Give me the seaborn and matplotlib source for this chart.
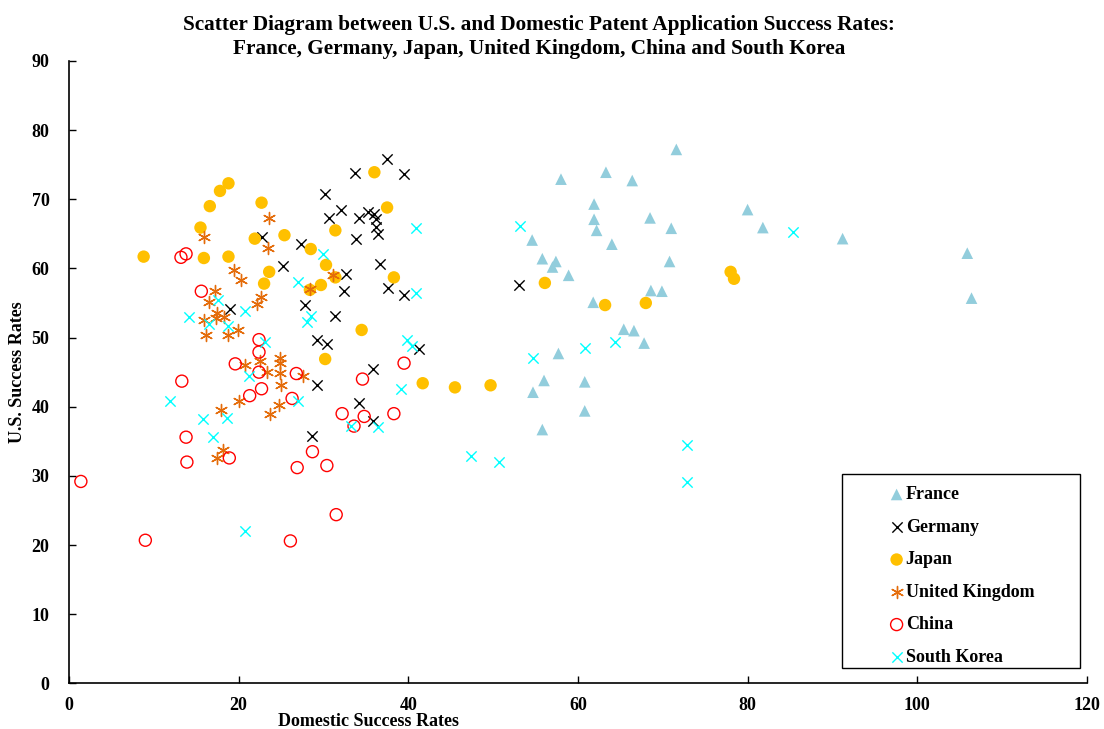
import pandas as pd
import seaborn as sns
import matplotlib.pyplot as plt
from matplotlib.patches import Rectangle

# Данные: (внутренний успех, успех в США) по странам
france_x = [71.6, 63.3, 66.4, 58.0, 80.0, 61.9, 68.5, 61.9, 81.8, 71.0, 62.2, 54.6, 64.0, 91.2,
            105.9, 106.4, 55.8, 57.4, 57.0, 58.9, 70.8, 68.6, 69.9, 61.8, 65.4, 66.6, 67.8,
            57.7, 56.0, 54.7, 60.8, 60.8, 55.8]
france_y = [77.2, 73.9, 72.7, 72.9, 68.5, 69.3, 67.3, 67.1, 65.9, 65.8, 65.5, 64.1, 63.5, 64.3,
            62.2, 55.7, 61.4, 61.0, 60.2, 59.0, 61.0, 56.8, 56.7, 55.1, 51.2, 51.0, 49.2,
            47.7, 43.8, 42.1, 43.6, 39.4, 36.7]

germany_x = [37.5, 33.7, 39.5, 30.2, 32.1, 30.6, 34.2, 35.3, 35.9, 36.2, 36.2, 36.4, 22.8, 33.8,
             27.3, 36.7, 25.2, 32.7, 32.4, 37.6, 39.5, 27.8, 19.0, 31.4, 29.2, 30.4, 41.3,
             35.8, 29.2, 34.2, 35.8, 28.6, 53.0]
germany_y = [75.8, 73.8, 73.6, 70.7, 68.4, 67.3, 67.3, 68.2, 67.9, 67.1, 66.0, 65.0, 64.6, 64.2,
             63.5, 60.7, 60.3, 59.2, 56.7, 57.1, 56.1, 54.7, 54.2, 53.1, 49.6, 49.1, 48.3,
             45.5, 43.1, 40.5, 37.9, 35.7, 57.6]

japan_x = [18.8, 17.8, 16.6, 36.0, 22.7, 37.5, 15.5, 31.4, 25.4, 21.9, 28.5, 8.8, 15.9, 18.8,
           30.3, 23.6, 38.3, 31.4, 29.7, 28.4, 23.0, 34.5, 30.2, 41.7, 45.5, 49.7, 56.1,
           63.2, 68.0, 78.0, 78.4]
japan_y = [72.3, 71.2, 69.0, 73.9, 69.5, 68.8, 65.9, 65.5, 64.8, 64.3, 62.8, 61.7, 61.5, 61.7,
           60.5, 59.5, 58.7, 58.7, 57.6, 56.9, 57.8, 51.1, 46.9, 43.4, 42.8, 43.1, 57.9,
           54.7, 55.0, 59.5, 58.5]

uk_x = [15.9, 23.6, 23.5, 19.4, 20.3, 31.1, 28.4, 17.2, 16.5, 22.2, 22.6, 15.9, 17.4, 17.3,
        18.3, 19.9, 16.1, 18.8, 24.9, 24.9, 22.5, 20.8, 23.3, 24.9, 27.6, 25.0, 20.1, 24.7,
        17.9, 23.7, 18.1, 17.5]
uk_y = [64.6, 67.3, 62.9, 59.7, 58.3, 59.1, 57.0, 56.7, 55.1, 54.9, 55.9, 52.6, 53.5, 52.8,
        53.0, 51.1, 50.4, 50.4, 47.0, 46.3, 46.6, 46.0, 45.0, 44.9, 44.4, 43.2, 40.8, 40.3,
        39.6, 38.9, 33.7, 32.6]

china_x = [13.8, 13.2, 15.6, 22.4, 22.4, 19.6, 22.4, 13.3, 21.3, 26.8, 22.7, 26.3, 13.8, 18.9,
           13.9, 1.4, 9.0, 34.6, 39.5, 32.2, 34.8, 33.6, 38.3, 28.7, 26.9, 30.4, 31.5, 26.1]
china_y = [62.1, 61.6, 56.7, 49.7, 47.9, 46.2, 45.0, 43.7, 41.6, 44.8, 42.6, 41.2, 35.6, 32.6,
           32.0, 29.2, 20.7, 44.0, 46.3, 39.0, 38.6, 37.2, 39.0, 33.5, 31.2, 31.5, 24.4, 20.6]

korea_x = [53.2, 85.4, 40.9, 30.0, 27.0, 40.9, 17.6, 20.8, 14.2, 28.5, 28.1, 16.5, 18.8, 23.1,
           39.8, 40.4, 64.4, 60.8, 54.7, 21.2, 11.9, 27.0, 39.1, 15.8, 18.6, 33.2, 36.4, 17.0,
           47.4, 50.7, 72.9, 72.9, 20.8]
korea_y = [66.1, 65.3, 65.9, 62.1, 58.0, 56.4, 55.4, 53.9, 53.0, 53.1, 52.3, 52.0, 51.6, 49.4,
           49.7, 48.8, 49.4, 48.5, 47.0, 44.5, 40.9, 40.8, 42.6, 38.3, 38.4, 37.2, 37.1, 35.6,
           32.9, 32.0, 34.4, 29.1, 22.0]

countries = ["France", "Germany", "Japan", "United Kingdom", "China", "South Korea"]
xs = [france_x, germany_x, japan_x, uk_x, china_x, korea_x]
ys = [france_y, germany_y, japan_y, uk_y, china_y, korea_y]

rows = []
for name, xv, yv in zip(countries, xs, ys):
    for a, b in zip(xv, yv):
        rows.append({"country": name, "domestic": a, "us": b})
df = pd.DataFrame(rows)

# Стили маркеров
styles = {
    "France": dict(marker="^", s=70, color="#92CDDC", edgecolor="none"),
    "Germany": dict(marker="x", s=55, color="black", linewidth=1.0),
    "Japan": dict(marker="o", s=80, color="#FFC000", edgecolor="none"),
    "United Kingdom": dict(marker=(6, 2, 0), s=75, color="#E46C0A", linewidth=1.0),
    "China": dict(marker="o", s=75, facecolors="none", edgecolors="#FF0000", linewidth=1.0),
    "South Korea": dict(marker="x", s=55, color="#00FFFF", linewidth=1.0),
}

sns.set_theme(style="white")
plt.rcParams["font.family"] = ["Liberation Serif", "DejaVu Serif"]
plt.rcParams["font.weight"] = "bold"
plt.rcParams["text.color"] = "black"

fig = plt.figure(figsize=(11.04, 7.29), dpi=100)
ax = fig.add_axes([0.0625, 0.0625, 0.922, 0.854])

for name in countries:
    sub = df[df["country"] == name]
    sns.scatterplot(ax=ax, data=sub, x="domestic", y="us", label=name, **styles[name])

ax.set_xlim(0, 120)
ax.set_ylim(0, 90)
ax.set_xticks(range(0, 121, 20))
ax.set_yticks(range(0, 91, 10))
ax.tick_params(direction="in", length=5, width=1, labelsize=13, colors="black")
for lab in ax.get_xticklabels() + ax.get_yticklabels():
    lab.set_fontweight("bold")
ax.tick_params(axis="x", bottom=True, pad=10)
ax.tick_params(axis="y", left=True, pad=14)

for side in ["top", "right"]:
    ax.spines[side].set_visible(False)
for side in ["left", "bottom"]:
    ax.spines[side].set_color("black")
    ax.spines[side].set_linewidth(1.2)

ax.set_xlabel("Domestic Success Rates", fontsize=13, fontweight="bold", color="black")
ax.set_ylabel("U.S. Success Rates", fontsize=13, fontweight="bold", color="black")
ax.xaxis.set_label_coords(0.294, -0.047)
ax.yaxis.set_label_coords(-0.042, 0.5)

fig.suptitle("Scatter Diagram between U.S. and Domestic Patent Application Success Rates:\n"
             "France, Germany, Japan, United Kingdom, China and South Korea",
             x=0.488, y=0.98, fontsize=15.3, fontweight="bold", linespacing=1.3,
             color="black")

# Легенда в рамке
leg = ax.legend(loc="upper left", bbox_to_anchor=(0.79, 0.34), frameon=False,
                fontsize=13, handletextpad=0.0, labelspacing=0.86, handlelength=1.0,
                borderpad=0.3)
for t in leg.get_texts():
    t.set_fontweight("bold")
    t.set_color("black")
ax.add_patch(Rectangle((0.759, 0.024), 0.234, 0.312, transform=ax.transAxes,
                       fill=False, edgecolor="black", linewidth=1.0, clip_on=False))

fig.savefig("out.png", dpi=100)
